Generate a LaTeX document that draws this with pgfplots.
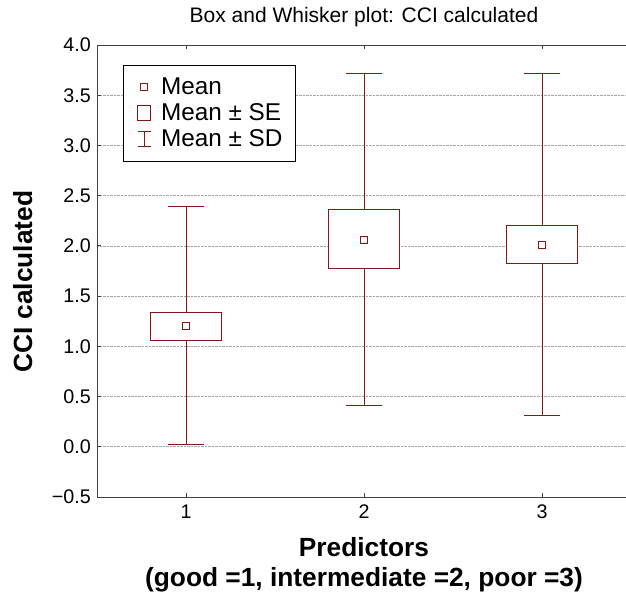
\documentclass[border=0pt]{standalone}
\usepackage{fontspec}
\setmainfont{Liberation Sans}
\usepackage{pgfplots}
\pgfplotsset{compat=1.18}
\usepgfplotslibrary{statistics}
\definecolor{cci}{RGB}{135,22,28}
\definecolor{axgray}{RGB}{64,64,64}

\begin{document}
\begin{tikzpicture}
% page = reference frame; the plot runs on past the right edge like the original
\path[use as bounding box] (-97pt,-98pt) rectangle (529pt,497pt);
\begin{axis}[
  at={(0,0)}, anchor=south west,
  scale only axis, width=534pt, height=452pt,
  xmin=0.5, xmax=3.5, ymin=-0.5, ymax=4,
  axis x line*=box, axis y line*=left,
  xtick={1,2,3}, xticklabels={1,2,3},
  ytick={-0.5,0,0.5,1,1.5,2,2.5,3,3.5,4},
  yticklabels={−0.5,0.0,0.5,1.0,1.5,2.0,2.5,3.0,3.5,4.0},
  xtick pos=both, ytick pos=left,
  tick align=inside, major tick length=4pt,
  tick style={axgray, line width=0.8pt},
  axis line style={axgray, line width=0.9pt, -},
  ymajorgrids, grid style={densely dotted, black!35, line width=0.6pt},
  tick label style={font=\fontsize{19.7}{22}\selectfont, inner sep=0pt},
  yticklabel style={xshift=-6pt},
  xticklabel style={yshift=-8pt},
  title={Box and Whisker plot: CCI calculated},
  title style={at={(axis description cs:0.5,1)}, anchor=base, yshift=16pt,
    inner sep=0pt, font=\fontsize{21}{24}\selectfont},
  xlabel={Predictors\\(good =1, intermediate =2, poor =3)},
  xlabel style={at={(axis description cs:0.5,0)}, anchor=north, yshift=-40pt,
    align=center, inner sep=0pt, font=\bfseries\fontsize{26.3}{30}\selectfont},
  ylabel={CCI calculated},
  ylabel style={at={(axis description cs:-0.1217,0.4768)}, anchor=base,
    inner sep=0pt, font=\bfseries\fontsize{26.3}{30}\selectfont},
  boxplot/draw direction=y,
  boxplot/every median/.style={draw=none},
  legend style={at={(axis description cs:0.0487,0.9558)}, anchor=north west,
    draw=black, line width=1pt, fill=white,
    font=\fontsize{24.3}{26}\selectfont,
    inner xsep=13.5pt, inner ysep=12pt, row sep=6pt, column sep=10pt,
    nodes={inner sep=0pt, text height=17pt, text depth=3pt}},
  legend cell align=left,
]
\addlegendimage{legend image code/.code={
  \path[draw=none, fill=none] (0pt,-7.5pt) rectangle (13pt,7.5pt);
  \draw[cci, line width=1pt, fill=white] (3pt,-3.5pt) rectangle (10pt,3.5pt);}}
\addlegendentry{Mean}
\addlegendimage{legend image code/.code={
  \draw[cci, line width=1pt, fill=white] (0pt,-7.5pt) rectangle (13pt,7.5pt);}}
\addlegendentry{Mean ± SE}
\addlegendimage{legend image code/.code={
  \path[draw=none, fill=none] (0pt,-7.5pt) rectangle (13pt,7.5pt);
  \draw[cci, line width=1pt] (0pt,-7.5pt) -- (13pt,-7.5pt)
    (6.5pt,-7.5pt) -- (6.5pt,7.5pt) (0pt,7.5pt) -- (13pt,7.5pt);}}
\addlegendentry{Mean ± SD}

% SD whiskers and SE boxes
\addplot[draw=cci, fill=white, line width=1pt, forget plot,
  boxplot prepared={draw position=1, lower whisker=0.02, lower quartile=1.06,
    median=1.20, upper quartile=1.34, upper whisker=2.39,
    box extend=0.4, whisker extend=0.2}] coordinates {};
\addplot[draw=cci, fill=white, line width=1pt, forget plot,
  boxplot prepared={draw position=2, lower whisker=0.41, lower quartile=1.77,
    median=2.06, upper quartile=2.36, upper whisker=3.72,
    box extend=0.4, whisker extend=0.2}] coordinates {};
\addplot[draw=cci, fill=white, line width=1pt, forget plot,
  boxplot prepared={draw position=3, lower whisker=0.31, lower quartile=1.82,
    median=2.01, upper quartile=2.20, upper whisker=3.72,
    box extend=0.4, whisker extend=0.2}] coordinates {};

% means
\addplot[only marks, mark=square*, mark size=3.5pt, forget plot,
  mark options={draw=cci, fill=white, line width=1pt}]
  coordinates {(1,1.20) (2,2.06) (3,2.01)};
\end{axis}
\end{tikzpicture}
\end{document}
